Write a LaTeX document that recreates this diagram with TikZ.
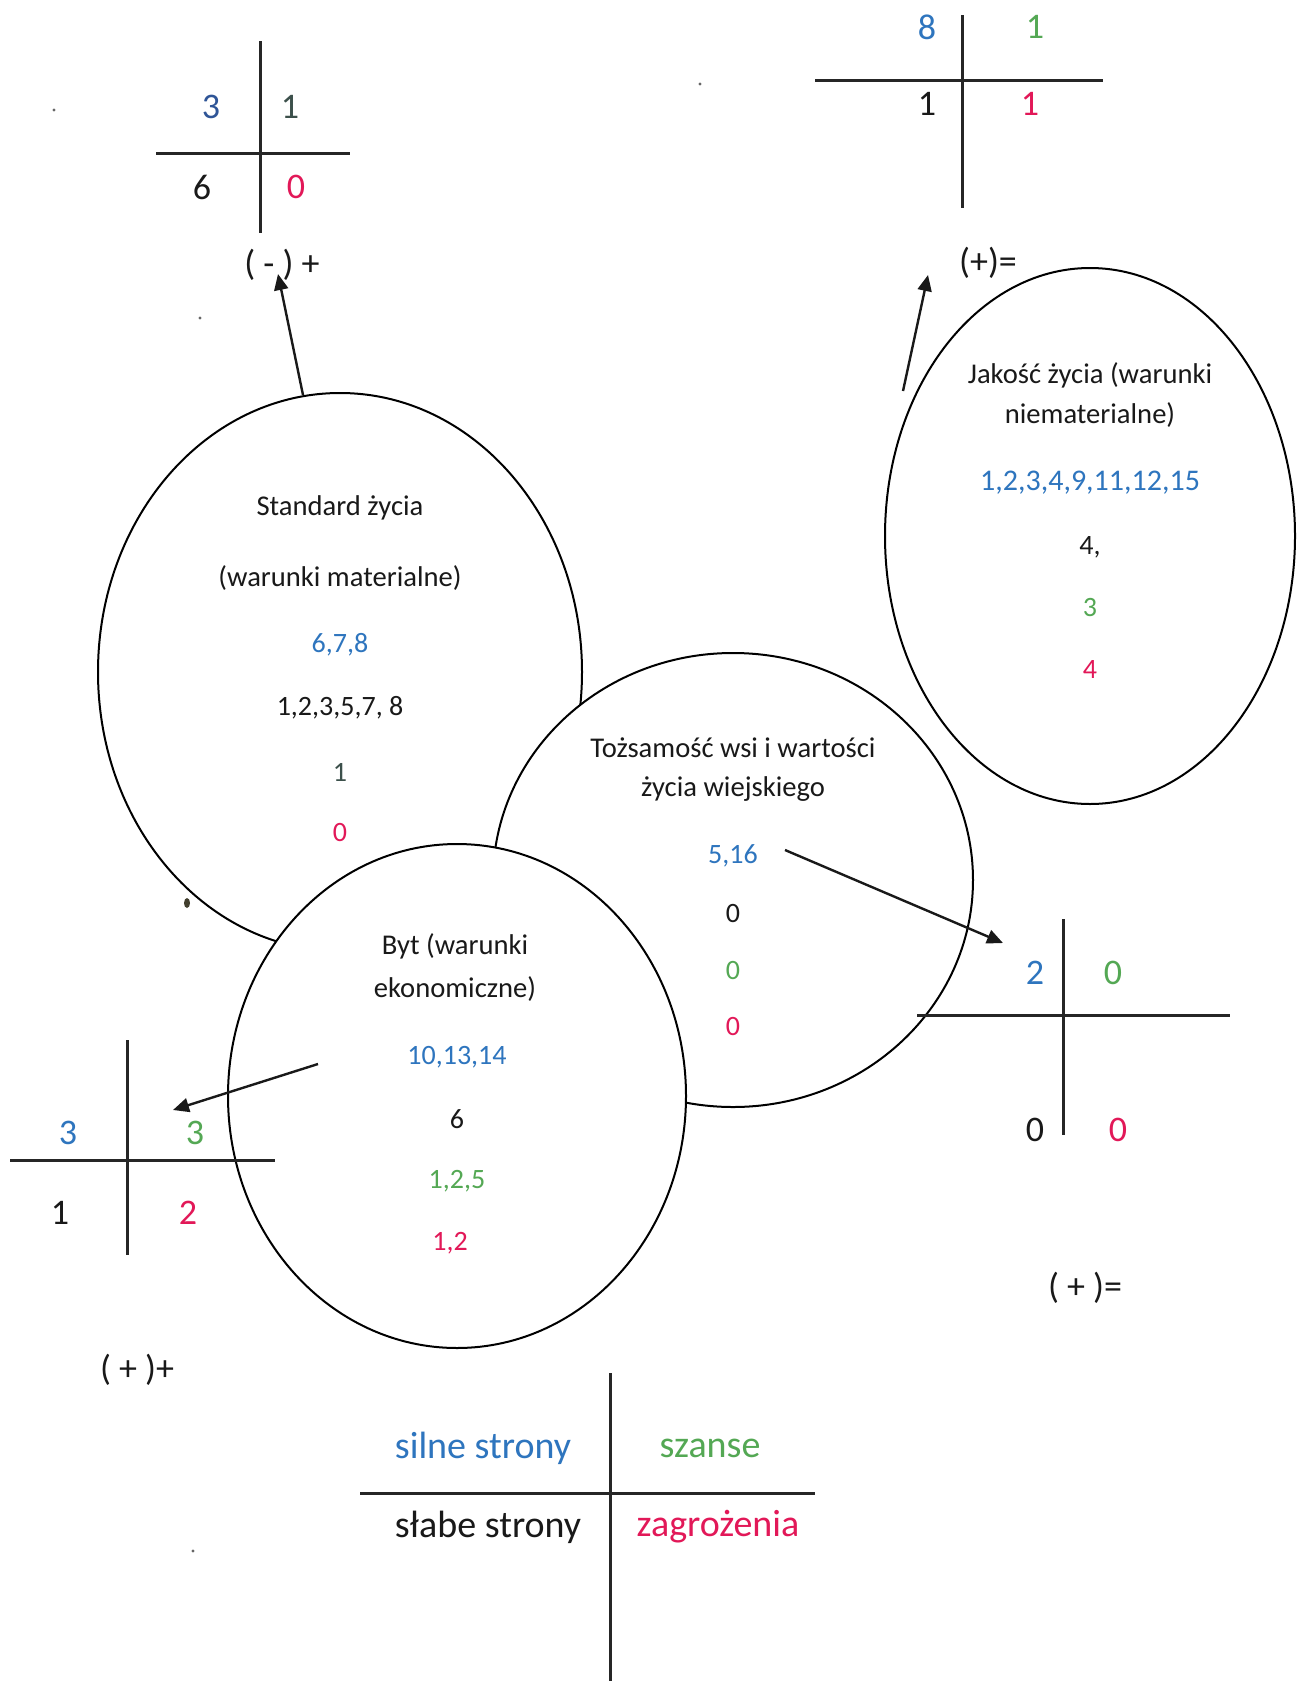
\documentclass[tikz,border=0pt]{standalone}
\usepackage{fontspec}
\setmainfont{Carlito}
\usetikzlibrary{shapes.geometric,arrows.meta}
\definecolor{cblue}{RGB}{46,117,190}
\definecolor{cdblue}{RGB}{47,85,151}
\definecolor{cgreen}{RGB}{84,168,84}
\definecolor{cred}{RGB}{226,24,88}
\definecolor{cslate}{RGB}{60,80,75}
\definecolor{ctext}{RGB}{25,25,25}
\begin{document}
\begin{tikzpicture}[x=0.5pt,y=-0.5pt,
  oval/.style={ellipse,draw=black,line width=1pt,fill=white,inner sep=0pt,outer sep=0pt},
  ttl/.style={font=\fontsize{14.3}{16}\selectfont,text=ctext,align=center,inner sep=0pt},
  num/.style={font=\fontsize{14}{16}\selectfont,inner sep=0pt},
  qd/.style={font=\fontsize{18}{21}\selectfont,inner sep=0pt},
  lg/.style={font=\fontsize{19}{22}\selectfont,inner sep=0pt},
  axis/.style={line width=1.5pt,draw=black!85},
  arr/.style={line width=1.2pt,draw=black!90,-{Triangle[length=8pt,width=7pt]}},
  speck/.style={fill=black!60}]
\useasboundingbox (0,0) rectangle (1299,1681);
\fill[white] (0,0) rectangle (1299,1681);

% ---------- ellipses ----------
\node[oval,minimum width=242pt,minimum height=279pt] (std) at (340,672) {};
\node[oval,minimum width=240pt,minimum height=227pt] (toz) at (733,880) {};
\node[oval,minimum width=229pt,minimum height=252pt] (byt) at (457,1096) {};
\node[oval,minimum width=205pt,minimum height=268pt] (jak) at (1090,536) {};

% ---------- Standard zycia ----------
\node[ttl] (stdA) at (340,508) {Standard życia};
\node[ttl] (stdB) at (340,578) {(warunki materialne)};
\node[num,text=cblue] (stdS) at (340,645) {6,7,8};
\node[num,text=ctext] (stdW) at (340,708) {1,2,3,5,7, 8};
\node[num,text=cslate] (stdO) at (340,772) {1};
\node[num,text=cred] (stdT) at (340,833) {0};

% ---------- Tozsamosc ----------
\node[ttl] (tozA) at (733,748) {Tożsamość wsi i wartości};
\node[ttl] (tozB) at (733,789) {życia wiejskiego};
\node[num,text=cblue] (tozS) at (733,856) {5,16};
\node[num,text=ctext] (tozW) at (733,913) {0};
\node[num,text=cgreen] (tozO) at (733,970) {0};
\node[num,text=cred] (tozT) at (733,1026) {0};

% ---------- Byt ----------
\node[ttl] (bytA) at (455,946) {Byt (warunki};
\node[ttl] (bytB) at (455,989) {ekonomiczne)};
\node[num,text=cblue] (bytS) at (457,1057) {10,13,14};
\node[num,text=ctext] (bytW) at (457,1119) {6};
\node[num,text=cgreen] (bytO) at (457,1181) {1,2,5};
\node[num,text=cred] (bytT) at (450,1243) {1,2};

% ---------- Jakosc zycia ----------
\node[ttl] (jakA) at (1090,375) {Jakość życia (warunki};
\node[ttl] (jakB) at (1090,415) {niematerialne)};
\node[num,text=cblue,font=\fontsize{15}{17}\selectfont] (jakS) at (1090,483) {1,2,3,4,9,11,12,15};
\node[num,text=ctext] (jakW) at (1090,547) {4,};
\node[num,text=cgreen] (jakO) at (1090,608) {3};
\node[num,text=cred] (jakT) at (1090,670) {4};

% ---------- quadrant 1 (top left) ----------
\coordinate (q1t) at (260,41); \coordinate (q1b) at (260,233);
\coordinate (q1l) at (156,153); \coordinate (q1r) at (350,153);
\draw[axis] (q1t) -- (q1b);
\draw[axis] (q1l) -- (q1r);
\node[qd,text=cdblue] (q1s) at (211,107) {3};
\node[qd,text=cslate] (q1o) at (290,107) {1};
\node[qd,text=ctext] (q1w) at (202,187) {6};
\node[qd,text=cred] (q1z) at (296,187) {0};
\node[qd,text=ctext] (q1lab) at (282,265) {( - ) +};

% ---------- quadrant 2 (top right) ----------
\coordinate (q2t) at (962,15); \coordinate (q2b) at (962,208);
\coordinate (q2l) at (815,80); \coordinate (q2r) at (1103,80);
\draw[axis] (q2t) -- (q2b);
\draw[axis] (q2l) -- (q2r);
\node[qd,text=cblue] (q2s) at (927,27) {8};
\node[qd,text=cgreen] (q2o) at (1035,27) {1};
\node[qd,text=ctext] (q2w) at (927,104) {1};
\node[qd,text=cred] (q2z) at (1030,104) {1};
\node[qd,text=ctext] (q2lab) at (988,263) {(+)=};

% ---------- quadrant 3 (bottom left) ----------
\coordinate (q3t) at (127,1040); \coordinate (q3b) at (127,1255);
\coordinate (q3l) at (10,1160); \coordinate (q3r) at (275,1160);
\draw[axis] (q3t) -- (q3b);
\draw[axis] (q3l) -- (q3r);
\node[qd,text=cblue] (q3s) at (68,1133) {3};
\node[qd,text=cgreen] (q3o) at (195,1133) {3};
\node[qd,text=ctext] (q3w) at (60,1213) {1};
\node[qd,text=cred] (q3z) at (188,1213) {2};
\node[qd,text=ctext] (q3lab) at (137,1370) {( + )+};

% ---------- quadrant 4 (bottom right) ----------
\coordinate (q4t) at (1063,919); \coordinate (q4b) at (1063,1135);
\coordinate (q4l) at (917,1015); \coordinate (q4r) at (1230,1015);
\draw[axis] (q4t) -- (q4b);
\draw[axis] (q4l) -- (q4r);
\node[qd,text=cblue] (q4s) at (1035,973) {2};
\node[qd,text=cgreen] (q4o) at (1113,973) {0};
\node[qd,text=ctext] (q4w) at (1035,1130) {0};
\node[qd,text=cred] (q4z) at (1118,1130) {0};
\node[qd,text=ctext] (q4lab) at (1085,1288) {( + )=};

% ---------- legend ----------
\coordinate (lgt) at (610,1373); \coordinate (lgb) at (610,1681);
\coordinate (lgl) at (360,1493); \coordinate (lgr) at (815,1493);
\draw[axis] (lgt) -- (lgb);
\draw[axis] (lgl) -- (lgr);
\node[lg,text=cblue] (lgs) at (483,1448) {silne strony};
\node[lg,text=cgreen] (lgo) at (710,1448) {szanse};
\node[lg,text=ctext] (lgw) at (488,1527) {słabe strony};
\node[lg,text=cred] (lgz) at (718,1527) {zagrożenia};

% ---------- arrows ----------
\coordinate (a1s) at (303,395); \coordinate (a1e) at (278,274);
\coordinate (a2s) at (903,391); \coordinate (a2e) at (928,275);
\coordinate (a3s) at (318,1064); \coordinate (a3e) at (173,1110);
\coordinate (a4s) at (785,850); \coordinate (a4e) at (1003,943);
\draw[arr] (a1s) -- (a1e);
\draw[arr] (a2s) -- (a2e);
\draw[arr] (a3s) -- (a3e);
\draw[arr] (a4s) -- (a4e);

% ---------- scan specks ----------
\fill[fill=black!70!olive] (187,903) ellipse (1.5pt and 2.5pt);
\fill[speck] (54,110) circle (0.8pt);
\fill[speck] (700,84) circle (0.8pt);
\fill[speck] (200,318) circle (0.8pt);
\fill[speck] (193,1551) circle (0.8pt);
\end{tikzpicture}
\end{document}
